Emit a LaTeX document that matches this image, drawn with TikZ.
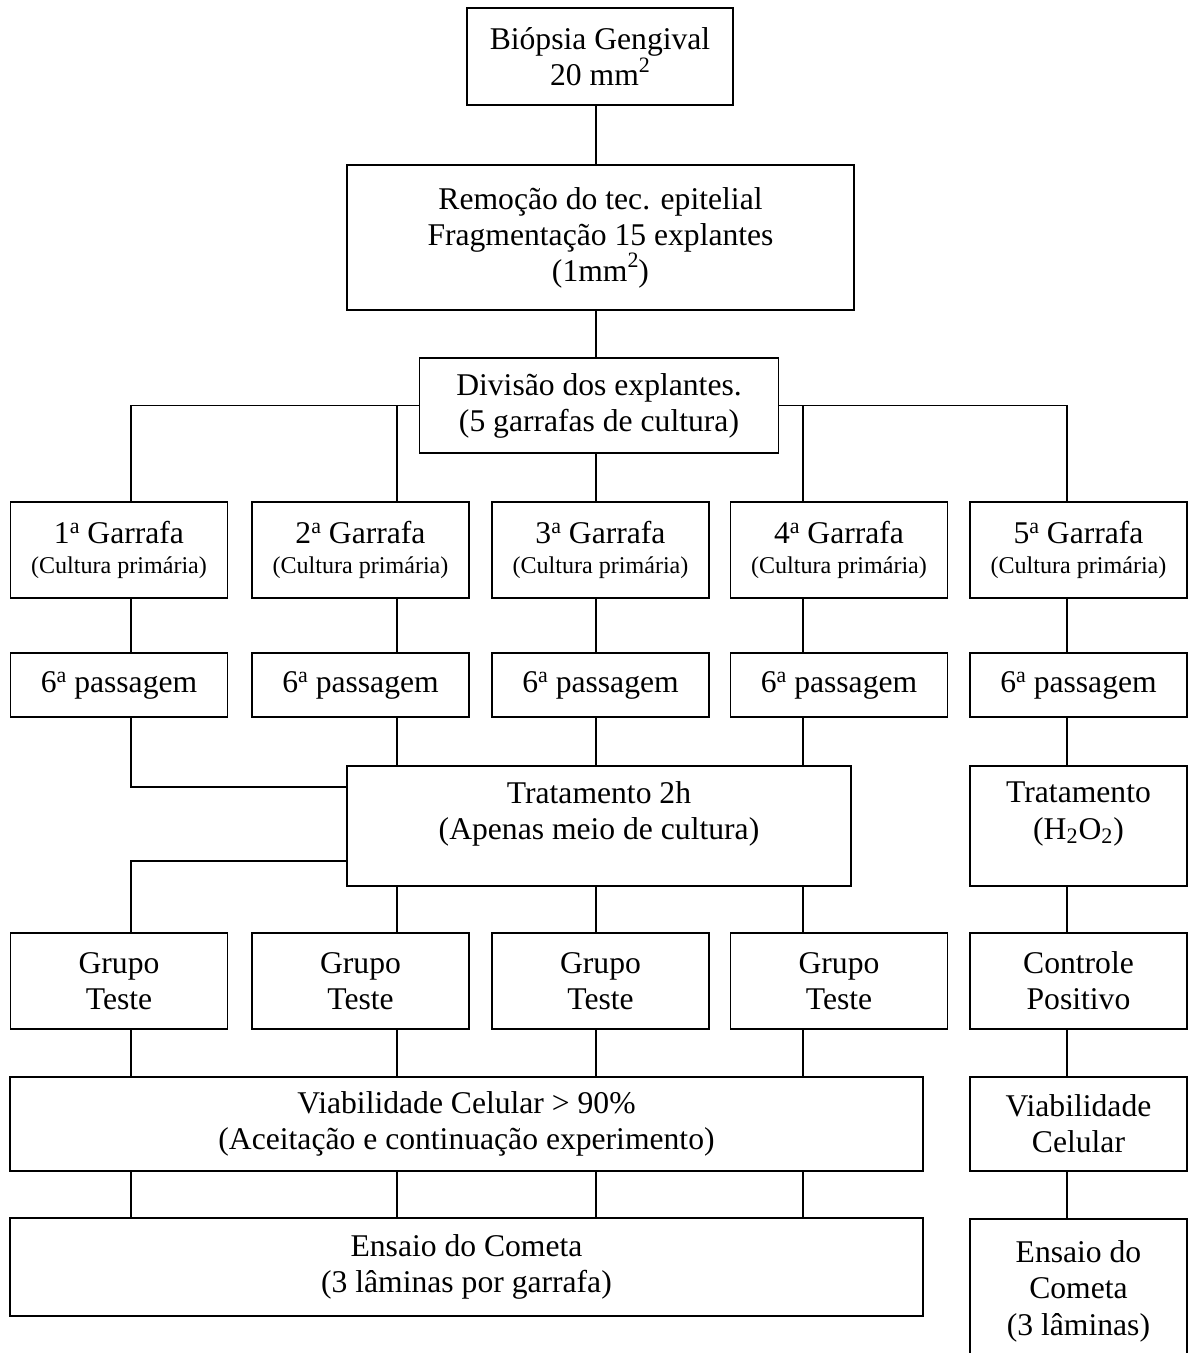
\documentclass[tikz,border=0pt]{standalone}
\usepackage{fontspec}
\setmainfont{Liberation Serif}
\usepackage{tikz}
\newcommand{\bigtxt}{\fontsize{18}{20.5}\selectfont}
\newcommand{\smalltxt}{\fontsize{13.7}{16}\selectfont}
\newcommand{\ord}[1]{#1\raisebox{5.7pt}{\fontsize{12.5}{12.5}\selectfont a}}
\newcommand{\sq}{\raisebox{7.5pt}{\fontsize{12.5}{12.5}\selectfont 2}}

\begin{document}
\begin{tikzpicture}[x=0.02cm, y=-0.02cm,
  box/.style={draw, line width=1pt, align=center, inner sep=0pt, font=\bigtxt},
  colbox/.style={box, minimum width=4.34cm},
  link/.style={line width=1pt}]
  \useasboundingbox (0,0) rectangle (1188,1353);

  \coordinate (k1) at (131,0);
  \coordinate (k2) at (397,0);
  \coordinate (k3) at (596,0);
  \coordinate (k4) at (803,0);
  \coordinate (k5) at (1067,0);

  \node[box, minimum width=5.32cm, minimum height=1.94cm] (bio) at (600,56.5) {Biópsia Gengival\\20 mm\sq};
  \node[box, minimum width=10.14cm, minimum height=2.9cm] (rem) at (600.5,237.5) {Remoção do tec. epitelial\\Fragmentação 15 explantes\\(1mm\sq)};
  \node[box, minimum width=7.18cm, minimum height=1.9cm] (div) at (599,405.5) {Divisão dos explantes.\\(5 garrafas de cultura)};

  \node[colbox, minimum height=1.92cm] (g1) at (119,550) {\ord{1} Garrafa\\[-3pt]{\smalltxt (Cultura primária)}};
  \node[colbox, minimum height=1.92cm] (g2) at (360.5,550) {\ord{2} Garrafa\\[-3pt]{\smalltxt (Cultura primária)}};
  \node[colbox, minimum height=1.92cm] (g3) at (600.5,550) {\ord{3} Garrafa\\[-3pt]{\smalltxt (Cultura primária)}};
  \node[colbox, minimum height=1.92cm] (g4) at (839,550) {\ord{4} Garrafa\\[-3pt]{\smalltxt (Cultura primária)}};
  \node[colbox, minimum height=1.92cm] (g5) at (1078.5,550) {\ord{5} Garrafa\\[-3pt]{\smalltxt (Cultura primária)}};

  \node[colbox, minimum height=1.28cm] (p1) at (119,685) {\ord{6} passagem};
  \node[colbox, minimum height=1.28cm] (p2) at (360.5,685) {\ord{6} passagem};
  \node[colbox, minimum height=1.28cm] (p3) at (600.5,685) {\ord{6} passagem};
  \node[colbox, minimum height=1.28cm] (p4) at (839,685) {\ord{6} passagem};
  \node[colbox, minimum height=1.28cm] (p5) at (1078.5,685) {\ord{6} passagem};

  \node[box, minimum width=10.08cm, minimum height=2.4cm] (trat) at (599,826) {Tratamento 2h\\(Apenas meio de cultura)\\[-3pt]~};
  \node[colbox, minimum height=2.4cm] (trat5) at (1078.5,826) {Tratamento\\(H\textsubscript{2}O\textsubscript{2})\\[-3pt]~};

  \node[colbox, minimum height=1.92cm] (t1) at (119,981) {Grupo\\Teste};
  \node[colbox, minimum height=1.92cm] (t2) at (360.5,981) {Grupo\\Teste};
  \node[colbox, minimum height=1.92cm] (t3) at (600.5,981) {Grupo\\Teste};
  \node[colbox, minimum height=1.92cm] (t4) at (839,981) {Grupo\\Teste};
  \node[colbox, minimum height=1.92cm] (ctrl) at (1078.5,981) {Controle\\Positivo};

  \node[box, minimum width=18.26cm, minimum height=1.88cm] (viab) at (466.5,1124) {Viabilidade Celular > 90\%\\(Aceitação e continuação experimento)};
  \node[colbox, minimum height=1.88cm] (viab5) at (1078.5,1124) {Viabilidade\\Celular};

  \node[box, minimum width=18.26cm, minimum height=1.96cm] (ens) at (466.5,1267) {Ensaio do Cometa\\(3 lâminas por garrafa)};
  \node[colbox, minimum height=2.9cm, anchor=north] (ens5) at (1078.5,1218) {Ensaio do\\Cometa\\(3 lâminas)};

  \draw[link] (k3 |- bio.south) -- (k3 |- rem.north);
  \draw[link] (k3 |- rem.south) -- (k3 |- div.north);
  \draw[link] (div.west) -| (k1 |- g1.north);
  \draw[link] (k2 |- div.west) -- (k2 |- g2.north);
  \draw[link] (k3 |- div.south) -- (k3 |- g3.north);
  \draw[link] (div.east) -| (k5 |- g5.north);
  \draw[link] (k4 |- div.east) -- (k4 |- g4.north);

  \draw[link] (k1 |- g1.south) -- (k1 |- p1.north);
  \draw[link] (k2 |- g2.south) -- (k2 |- p2.north);
  \draw[link] (k3 |- g3.south) -- (k3 |- p3.north);
  \draw[link] (k4 |- g4.south) -- (k4 |- p4.north);
  \draw[link] (k5 |- g5.south) -- (k5 |- p5.north);

  \draw[link] (k1 |- p1.south) |- ([yshift=-0.44cm]trat.north west);
  \draw[link] (k2 |- p2.south) -- (k2 |- trat.north);
  \draw[link] (k3 |- p3.south) -- (k3 |- trat.north);
  \draw[link] (k4 |- p4.south) -- (k4 |- trat.north);
  \draw[link] (k5 |- p5.south) -- (k5 |- trat5.north);

  \draw[link] ([yshift=0.52cm]trat.south west) -| (k1 |- t1.north);
  \draw[link] (k2 |- trat.south) -- (k2 |- t2.north);
  \draw[link] (k3 |- trat.south) -- (k3 |- t3.north);
  \draw[link] (k4 |- trat.south) -- (k4 |- t4.north);
  \draw[link] (k5 |- trat5.south) -- (k5 |- ctrl.north);

  \draw[link] (k1 |- t1.south) -- (k1 |- viab.north);
  \draw[link] (k2 |- t2.south) -- (k2 |- viab.north);
  \draw[link] (k3 |- t3.south) -- (k3 |- viab.north);
  \draw[link] (k4 |- t4.south) -- (k4 |- viab.north);
  \draw[link] (k5 |- ctrl.south) -- (k5 |- viab5.north);

  \draw[link] (k1 |- viab.south) -- (k1 |- ens.north);
  \draw[link] (k2 |- viab.south) -- (k2 |- ens.north);
  \draw[link] (k3 |- viab.south) -- (k3 |- ens.north);
  \draw[link] (k4 |- viab.south) -- (k4 |- ens.north);
  \draw[link] (k5 |- viab5.south) -- (k5 |- ens5.north);
\end{tikzpicture}
\end{document}
